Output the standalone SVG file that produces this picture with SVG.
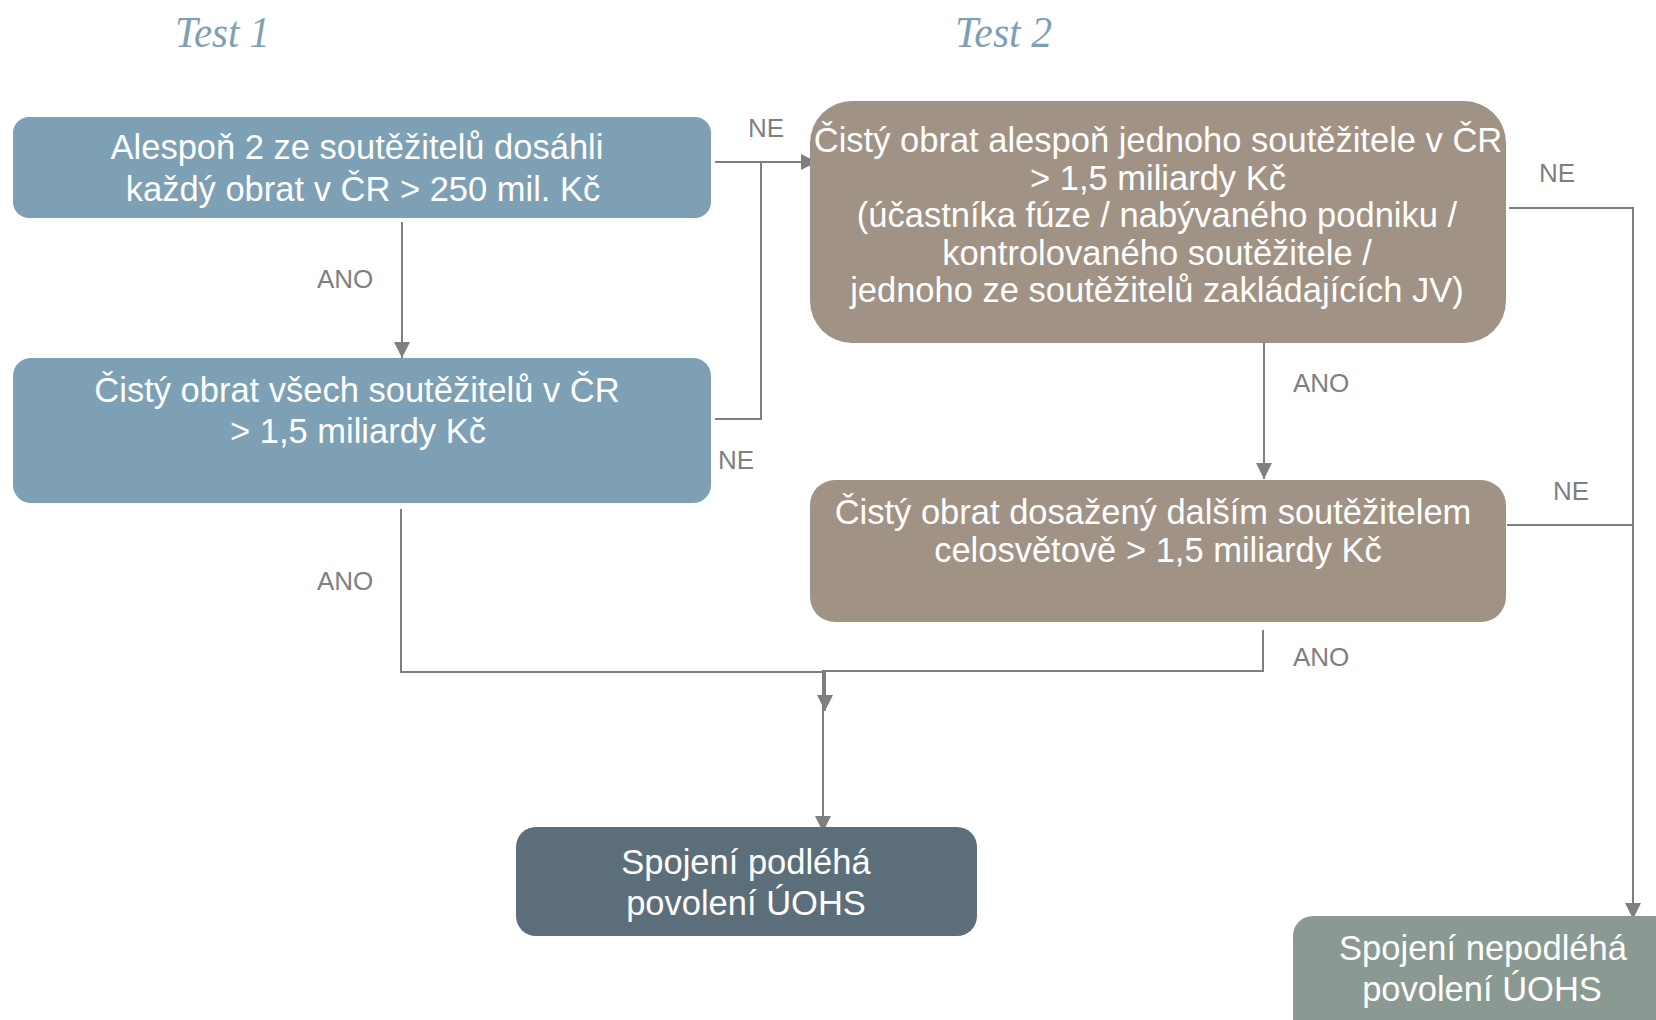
<svg xmlns="http://www.w3.org/2000/svg" width="1656" height="1020" viewBox="0 0 1656 1020">
  <style>
    .title { font-family: "Liberation Serif", "Times New Roman", serif; font-style: italic; font-size: 45px; fill: #7f9fb6; }
    .box-text { font-family: "Liberation Sans", Arial, sans-serif; font-size: 34.5px; fill: #ffffff; text-anchor: middle; }
    .label { font-family: "Liberation Sans", Arial, sans-serif; font-size: 26px; fill: #7f7f7f; }
    .conn { fill: none; stroke: #7f7f7f; stroke-width: 2; }
    .blue { fill: #7ea0b5; }
    .taupe { fill: #a09386; }
    .slate { fill: #5d6e7b; }
    .sage { fill: #8a9991; }
  </style>
  <defs>
    <marker id="arrow" markerUnits="userSpaceOnUse" markerWidth="17" markerHeight="17" refX="16" refY="8" orient="auto">
      <path d="M0,0 L16,8 L0,16 Z" fill="#7f7f7f"/>
    </marker>
  </defs>

  <rect width="1656" height="1020" fill="#ffffff"/>

  <!-- column headings -->
  <text class="title" x="175" y="47" textLength="95" lengthAdjust="spacingAndGlyphs">Test 1</text>
  <text class="title" x="955" y="47" textLength="97" lengthAdjust="spacingAndGlyphs">Test 2</text>

  <!-- connectors -->
  <g id="connectors">
    <path class="conn" d="M402,222 V358" marker-end="url(#arrow)"/>
    <path class="conn" d="M715,162 H817" marker-end="url(#arrow)"/>
    <path class="conn" d="M715,419 H761 V162"/>
    <path class="conn" d="M1264,343 V479" marker-end="url(#arrow)"/>
    <path class="conn" d="M1509,208 H1633 V919" marker-end="url(#arrow)"/>
    <path class="conn" d="M1507,525 H1633"/>
    <path class="conn" d="M401,509 V672 H825 V711" marker-end="url(#arrow)"/>
    <path class="conn" d="M1263,630 V671 H823 V832" marker-end="url(#arrow)"/>

    <text class="label" x="317" y="288">ANO</text>
    <text class="label" x="748" y="137">NE</text>
    <text class="label" x="718" y="469">NE</text>
    <text class="label" x="317" y="590">ANO</text>
    <text class="label" x="1293" y="392">ANO</text>
    <text class="label" x="1539" y="182">NE</text>
    <text class="label" x="1553" y="500">NE</text>
    <text class="label" x="1293" y="666">ANO</text>
  </g>

  <!-- Test 1: first threshold -->
  <g id="node-t1a">
    <rect class="blue" x="13" y="117" width="698" height="101" rx="16"/>
    <text class="box-text" y="159"><tspan x="357">Alespoň 2 ze soutěžitelů dosáhli</tspan><tspan x="363" y="201">každý obrat v ČR &gt; 250 mil. Kč</tspan></text>
  </g>

  <!-- Test 1: combined turnover -->
  <g id="node-t1b">
    <rect class="blue" x="13" y="358" width="698" height="145" rx="18"/>
    <text class="box-text" y="402"><tspan x="357">Čistý obrat všech soutěžitelů v ČR</tspan><tspan x="358" y="443">&gt; 1,5 miliardy Kč</tspan></text>
  </g>

  <!-- Test 2: single party turnover -->
  <g id="node-t2a">
    <rect class="taupe" x="810" y="101" width="696" height="242" rx="42"/>
    <text class="box-text" y="152"><tspan x="1158">Čistý obrat alespoň jednoho soutěžitele v ČR</tspan><tspan x="1158" y="190">&gt; 1,5 miliardy Kč</tspan><tspan x="1157" y="227">(účastníka fúze / nabývaného podniku /</tspan><tspan x="1157" y="264.5">kontrolovaného soutěžitele /</tspan><tspan x="1157" y="302">jednoho ze soutěžitelů zakládajících JV)</tspan></text>
  </g>

  <!-- Test 2: worldwide turnover -->
  <g id="node-t2b">
    <rect class="taupe" x="810" y="480" width="696" height="142" rx="25"/>
    <text class="box-text" y="524"><tspan x="1153">Čistý obrat dosažený dalším soutěžitelem</tspan><tspan x="1158" y="561.5">celosvětově &gt; 1,5 miliardy Kč</tspan></text>
  </g>

  <!-- outcome: notification required -->
  <g id="node-yes">
    <rect class="slate" x="516" y="827" width="461" height="109" rx="20"/>
    <text class="box-text" y="874"><tspan x="746">Spojení podléhá</tspan><tspan x="746" y="915">povolení ÚOHS</tspan></text>
  </g>

  <!-- outcome: no notification -->
  <g id="node-no">
    <rect class="sage" x="1293" y="916" width="400" height="140" rx="20"/>
    <text class="box-text" y="960"><tspan x="1483">Spojení nepodléhá</tspan><tspan x="1482" y="1001">povolení ÚOHS</tspan></text>
  </g>
</svg>
